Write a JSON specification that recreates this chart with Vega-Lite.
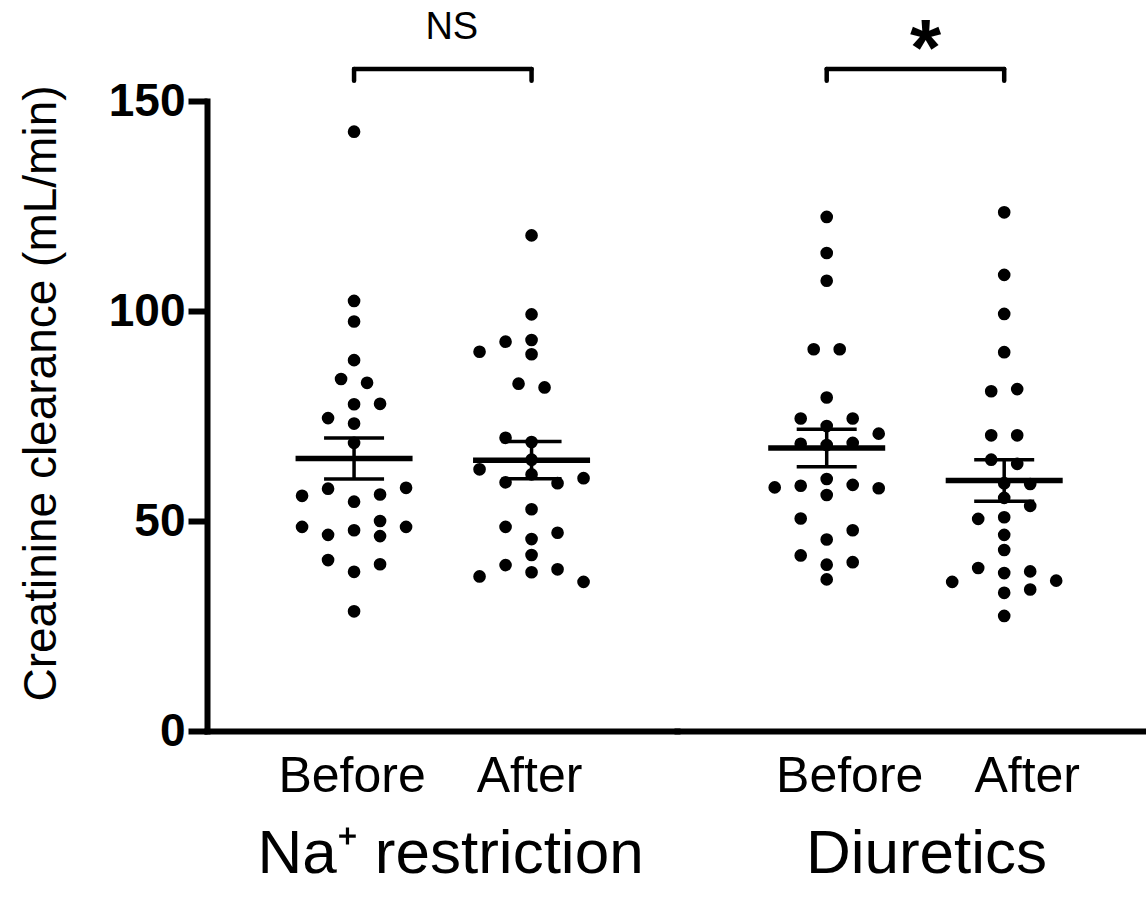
{
  "$schema": "https://vega.github.io/schema/vega-lite/v6.json",
  "autosize": {"type": "pad"},
  "padding": {"left": 17, "top": 9, "right": 0, "bottom": 0},
  "background": "white",
  "spacing": 0,
  "bounds": "flush",
  "config": {"view": {"stroke": null}, "font": "Liberation Sans", "axis": {"grid": false}},
  "datasets": {
    "pts": [
      {"condition": "Na⁺ restriction", "time": "Before", "slot": 0, "clearance": 142.7},
      {"condition": "Na⁺ restriction", "time": "Before", "slot": 0, "clearance": 102.4},
      {"condition": "Na⁺ restriction", "time": "Before", "slot": 0, "clearance": 97.5},
      {"condition": "Na⁺ restriction", "time": "Before", "slot": 0, "clearance": 88.3},
      {"condition": "Na⁺ restriction", "time": "Before", "slot": -0.5, "clearance": 83.8},
      {"condition": "Na⁺ restriction", "time": "Before", "slot": 0.5, "clearance": 82.9},
      {"condition": "Na⁺ restriction", "time": "Before", "slot": 0, "clearance": 77.8},
      {"condition": "Na⁺ restriction", "time": "Before", "slot": 1, "clearance": 77.9},
      {"condition": "Na⁺ restriction", "time": "Before", "slot": -1, "clearance": 74.5},
      {"condition": "Na⁺ restriction", "time": "Before", "slot": 0, "clearance": 73.2},
      {"condition": "Na⁺ restriction", "time": "Before", "slot": 0, "clearance": 68.6},
      {"condition": "Na⁺ restriction", "time": "Before", "slot": -1, "clearance": 57.7},
      {"condition": "Na⁺ restriction", "time": "Before", "slot": 2, "clearance": 57.9},
      {"condition": "Na⁺ restriction", "time": "Before", "slot": -2, "clearance": 56.0},
      {"condition": "Na⁺ restriction", "time": "Before", "slot": 1, "clearance": 56.3},
      {"condition": "Na⁺ restriction", "time": "Before", "slot": 0, "clearance": 54.6},
      {"condition": "Na⁺ restriction", "time": "Before", "slot": 1, "clearance": 50.0},
      {"condition": "Na⁺ restriction", "time": "Before", "slot": -2, "clearance": 48.6},
      {"condition": "Na⁺ restriction", "time": "Before", "slot": 2, "clearance": 48.6},
      {"condition": "Na⁺ restriction", "time": "Before", "slot": 0, "clearance": 47.8},
      {"condition": "Na⁺ restriction", "time": "Before", "slot": -1, "clearance": 46.7},
      {"condition": "Na⁺ restriction", "time": "Before", "slot": 1, "clearance": 46.4},
      {"condition": "Na⁺ restriction", "time": "Before", "slot": -1, "clearance": 40.7},
      {"condition": "Na⁺ restriction", "time": "Before", "slot": 1, "clearance": 39.7},
      {"condition": "Na⁺ restriction", "time": "Before", "slot": 0, "clearance": 37.9},
      {"condition": "Na⁺ restriction", "time": "Before", "slot": 0, "clearance": 28.5},
      {"condition": "Na⁺ restriction", "time": "After", "slot": 0, "clearance": 118.0},
      {"condition": "Na⁺ restriction", "time": "After", "slot": 0, "clearance": 99.2},
      {"condition": "Na⁺ restriction", "time": "After", "slot": -1, "clearance": 92.7},
      {"condition": "Na⁺ restriction", "time": "After", "slot": 0, "clearance": 93.1},
      {"condition": "Na⁺ restriction", "time": "After", "slot": -2, "clearance": 90.3},
      {"condition": "Na⁺ restriction", "time": "After", "slot": 0, "clearance": 89.7},
      {"condition": "Na⁺ restriction", "time": "After", "slot": -0.5, "clearance": 82.7},
      {"condition": "Na⁺ restriction", "time": "After", "slot": 0.5, "clearance": 81.8},
      {"condition": "Na⁺ restriction", "time": "After", "slot": -1, "clearance": 69.8},
      {"condition": "Na⁺ restriction", "time": "After", "slot": 0, "clearance": 68.8},
      {"condition": "Na⁺ restriction", "time": "After", "slot": 0, "clearance": 64.6},
      {"condition": "Na⁺ restriction", "time": "After", "slot": -2, "clearance": 62.3},
      {"condition": "Na⁺ restriction", "time": "After", "slot": 0, "clearance": 61.1},
      {"condition": "Na⁺ restriction", "time": "After", "slot": 2, "clearance": 60.2},
      {"condition": "Na⁺ restriction", "time": "After", "slot": -1, "clearance": 59.2},
      {"condition": "Na⁺ restriction", "time": "After", "slot": 1, "clearance": 59.0},
      {"condition": "Na⁺ restriction", "time": "After", "slot": 0, "clearance": 52.8},
      {"condition": "Na⁺ restriction", "time": "After", "slot": -1, "clearance": 48.6},
      {"condition": "Na⁺ restriction", "time": "After", "slot": 1, "clearance": 47.2},
      {"condition": "Na⁺ restriction", "time": "After", "slot": 0, "clearance": 45.7},
      {"condition": "Na⁺ restriction", "time": "After", "slot": 0, "clearance": 41.9},
      {"condition": "Na⁺ restriction", "time": "After", "slot": -1, "clearance": 39.5},
      {"condition": "Na⁺ restriction", "time": "After", "slot": 1, "clearance": 38.5},
      {"condition": "Na⁺ restriction", "time": "After", "slot": 0, "clearance": 37.8},
      {"condition": "Na⁺ restriction", "time": "After", "slot": -2, "clearance": 36.8},
      {"condition": "Na⁺ restriction", "time": "After", "slot": 2, "clearance": 35.5},
      {"condition": "Diuretics", "time": "Before", "slot": 0, "clearance": 122.4},
      {"condition": "Diuretics", "time": "Before", "slot": 0, "clearance": 113.8},
      {"condition": "Diuretics", "time": "Before", "slot": 0, "clearance": 107.2},
      {"condition": "Diuretics", "time": "Before", "slot": -0.5, "clearance": 90.9},
      {"condition": "Diuretics", "time": "Before", "slot": 0.5, "clearance": 90.9},
      {"condition": "Diuretics", "time": "Before", "slot": 0, "clearance": 79.4},
      {"condition": "Diuretics", "time": "Before", "slot": -1, "clearance": 74.4},
      {"condition": "Diuretics", "time": "Before", "slot": 1, "clearance": 74.4},
      {"condition": "Diuretics", "time": "Before", "slot": 0, "clearance": 72.6},
      {"condition": "Diuretics", "time": "Before", "slot": 2, "clearance": 70.8},
      {"condition": "Diuretics", "time": "Before", "slot": -1, "clearance": 68.4},
      {"condition": "Diuretics", "time": "Before", "slot": 0, "clearance": 68.1},
      {"condition": "Diuretics", "time": "Before", "slot": 1, "clearance": 68.6},
      {"condition": "Diuretics", "time": "Before", "slot": 0, "clearance": 60.0},
      {"condition": "Diuretics", "time": "Before", "slot": -2, "clearance": 58.0},
      {"condition": "Diuretics", "time": "Before", "slot": -1, "clearance": 58.4},
      {"condition": "Diuretics", "time": "Before", "slot": 1, "clearance": 58.6},
      {"condition": "Diuretics", "time": "Before", "slot": 2, "clearance": 57.8},
      {"condition": "Diuretics", "time": "Before", "slot": 0, "clearance": 56.2},
      {"condition": "Diuretics", "time": "Before", "slot": -1, "clearance": 50.6},
      {"condition": "Diuretics", "time": "Before", "slot": 1, "clearance": 47.8},
      {"condition": "Diuretics", "time": "Before", "slot": 0, "clearance": 45.6},
      {"condition": "Diuretics", "time": "Before", "slot": -1, "clearance": 41.8},
      {"condition": "Diuretics", "time": "Before", "slot": 1, "clearance": 40.2},
      {"condition": "Diuretics", "time": "Before", "slot": 0, "clearance": 39.6},
      {"condition": "Diuretics", "time": "Before", "slot": 0, "clearance": 36.1},
      {"condition": "Diuretics", "time": "After", "slot": 0, "clearance": 123.5},
      {"condition": "Diuretics", "time": "After", "slot": 0, "clearance": 108.6},
      {"condition": "Diuretics", "time": "After", "slot": 0, "clearance": 99.3},
      {"condition": "Diuretics", "time": "After", "slot": 0, "clearance": 90.2},
      {"condition": "Diuretics", "time": "After", "slot": -0.5, "clearance": 80.9},
      {"condition": "Diuretics", "time": "After", "slot": 0.5, "clearance": 81.4},
      {"condition": "Diuretics", "time": "After", "slot": -0.5, "clearance": 70.4},
      {"condition": "Diuretics", "time": "After", "slot": 0.5, "clearance": 70.4},
      {"condition": "Diuretics", "time": "After", "slot": -0.5, "clearance": 64.6},
      {"condition": "Diuretics", "time": "After", "slot": 0.5, "clearance": 63.6},
      {"condition": "Diuretics", "time": "After", "slot": 0, "clearance": 59.0},
      {"condition": "Diuretics", "time": "After", "slot": 1, "clearance": 58.8},
      {"condition": "Diuretics", "time": "After", "slot": 0, "clearance": 55.5},
      {"condition": "Diuretics", "time": "After", "slot": 1, "clearance": 53.6},
      {"condition": "Diuretics", "time": "After", "slot": -1, "clearance": 50.5},
      {"condition": "Diuretics", "time": "After", "slot": 0, "clearance": 50.9},
      {"condition": "Diuretics", "time": "After", "slot": 0, "clearance": 46.7},
      {"condition": "Diuretics", "time": "After", "slot": 0, "clearance": 43.1},
      {"condition": "Diuretics", "time": "After", "slot": -1, "clearance": 38.8},
      {"condition": "Diuretics", "time": "After", "slot": 0, "clearance": 37.6},
      {"condition": "Diuretics", "time": "After", "slot": 1, "clearance": 38.0},
      {"condition": "Diuretics", "time": "After", "slot": -2, "clearance": 35.5},
      {"condition": "Diuretics", "time": "After", "slot": 2, "clearance": 35.8},
      {"condition": "Diuretics", "time": "After", "slot": 0, "clearance": 32.9},
      {"condition": "Diuretics", "time": "After", "slot": 1, "clearance": 33.7},
      {"condition": "Diuretics", "time": "After", "slot": 0, "clearance": 27.4}
    ],
    "pairs": [
      {"condition": "Na⁺ restriction", "from": "Before", "to": "After", "sig": "NS"},
      {"condition": "Diuretics", "from": "Before", "to": "After", "sig": "*"}
    ]
  },
  "hconcat": [
    {
      "width": 470,
      "height": 630,
      "layer": [
        {
          "data": {"name": "pts"},
          "transform": [{"filter": "datum.condition == 'Na⁺ restriction'"}],
          "mark": {"type": "circle", "size": 160, "opacity": 1, "color": "black"},
          "encoding": {
            "x": {
              "field": "time", "type": "nominal",
              "scale": {"domain": ["Before", "After"], "paddingInner": 0, "paddingOuter": 0.324, "align": 0.507},
              "axis": {
                "title": "Na⁺ restriction", "titleFont": "Liberation Sans", "titleFontSize": 62, "titleFontWeight": "normal", "titleColor": "black",
                "titleX": 243, "titleY": 141, "titleBaseline": "alphabetic", "titleAlign": "center",
                "ticks": false, "labelAngle": 0, "labelOffset": -2,
                "domainWidth": 6, "domainColor": "black", "domainCap": "square",
                "labelFont": "Liberation Sans", "labelFontSize": 50, "labelColor": "black", "labelPadding": 20
              }
            },
            "xOffset": {"field": "slot", "type": "quantitative", "scale": {"domain": [-2, 2], "range": [36.75, 140.75]}},
            "y": {
              "field": "clearance", "type": "quantitative",
              "scale": {"domain": [0, 150], "nice": false},
              "title": "Creatinine clearance (mL/min)",
              "axis": {
                "values": [0, 50, 100, 150],
                "titleFont": "Liberation Sans", "titleFontSize": 46, "titleFontWeight": "normal", "titleColor": "black",
                "titleX": -166, "titleY": 292, "titleAngle": -90, "titleBaseline": "middle", "titleAlign": "center",
                "domainWidth": 6, "domainColor": "black", "domainCap": "square",
                "tickWidth": 6, "tickSize": 19, "tickColor": "black",
                "labelFont": "Liberation Sans", "labelFontSize": 46, "labelFontWeight": "bold", "labelColor": "black",
                "labelPadding": 3
              }
            }
          }
        },
        {
          "data": {"name": "pts"},
          "transform": [{"filter": "datum.condition == 'Na⁺ restriction'"}],
          "mark": {"type": "errorbar", "extent": "stderr", "color": "black", "rule": {"strokeWidth": 3.5, "opacity": 1}, "ticks": {"size": 60, "thickness": 3.5, "opacity": 1}},
          "encoding": {
            "x": {"field": "time", "type": "nominal"},
            "y": {"field": "clearance", "type": "quantitative", "title": "Creatinine clearance (mL/min)"}
          }
        },
        {
          "data": {"name": "pts"},
          "transform": [{"filter": "datum.condition == 'Na⁺ restriction'"}],
          "mark": {"type": "tick", "size": 117, "thickness": 5.5, "color": "black", "opacity": 1},
          "encoding": {
            "x": {"field": "time", "type": "nominal"},
            "y": {"aggregate": "mean", "field": "clearance", "type": "quantitative", "title": "Creatinine clearance (mL/min)"}
          }
        },
        {
          "data": {"name": "pairs"},
          "transform": [{"filter": "datum.condition == 'Na⁺ restriction'"}],
          "mark": {"type": "rule", "strokeWidth": 4.5, "color": "black", "strokeCap": "round"},
          "encoding": {
            "x": {"field": "from", "type": "nominal"},
            "x2": {"field": "to"},
            "y": {"datum": 157.6, "type": "quantitative"}
          }
        },
        {
          "data": {"name": "pairs"},
          "transform": [{"filter": "datum.condition == 'Na⁺ restriction'"}],
          "mark": {"type": "rule", "strokeWidth": 4.5, "color": "black", "strokeCap": "round"},
          "encoding": {
            "x": {"field": "from", "type": "nominal"},
            "y": {"datum": 157.6, "type": "quantitative"},
            "y2": {"datum": 154.8}
          }
        },
        {
          "data": {"name": "pairs"},
          "transform": [{"filter": "datum.condition == 'Na⁺ restriction'"}],
          "mark": {"type": "rule", "strokeWidth": 4.5, "color": "black", "strokeCap": "round"},
          "encoding": {
            "x": {"field": "to", "type": "nominal"},
            "y": {"datum": 157.6, "type": "quantitative"},
            "y2": {"datum": 154.8}
          }
        },
        {
          "data": {"name": "pairs"},
          "transform": [{"filter": "datum.condition == 'Na⁺ restriction'"}],
          "mark": {"type": "text", "fontSize": 38, "font": "Liberation Sans", "baseline": "middle", "align": "center", "dx": 9, "color": "black"},
          "encoding": {
            "x": {"field": "from", "type": "nominal", "bandPosition": 1},
            "y": {"datum": 167.3, "type": "quantitative"},
            "text": {"field": "sig"}
          }
        }
      ]
    },
    {
      "width": 470,
      "height": 630,
      "layer": [
        {
          "data": {"name": "pts"},
          "transform": [{"filter": "datum.condition == 'Diuretics'"}],
          "mark": {"type": "circle", "size": 160, "opacity": 1, "color": "black"},
          "encoding": {
            "x": {
              "field": "time", "type": "nominal",
              "scale": {"domain": ["Before", "After"], "paddingInner": 0, "paddingOuter": 0.324, "align": 0.53},
              "axis": {
                "title": "Diuretics", "titleFont": "Liberation Sans", "titleFontSize": 62, "titleFontWeight": "normal", "titleColor": "black",
                "titleX": 249, "titleY": 141, "titleBaseline": "alphabetic", "titleAlign": "center",
                "ticks": false, "labelAngle": 0, "labelOffset": 23,
                "domainWidth": 6, "domainColor": "black", "domainCap": "square",
                "labelFont": "Liberation Sans", "labelFontSize": 50, "labelColor": "black", "labelPadding": 20
              }
            },
            "xOffset": {"field": "slot", "type": "quantitative", "scale": {"domain": [-2, 2], "range": [36.75, 140.75]}},
            "y": {
              "field": "clearance", "type": "quantitative",
              "scale": {"domain": [0, 150], "nice": false},
              "axis": null
            }
          }
        },
        {
          "data": {"name": "pts"},
          "transform": [{"filter": "datum.condition == 'Diuretics'"}],
          "mark": {"type": "errorbar", "extent": "stderr", "color": "black", "rule": {"strokeWidth": 3.5, "opacity": 1}, "ticks": {"size": 60, "thickness": 3.5, "opacity": 1}},
          "encoding": {
            "x": {"field": "time", "type": "nominal"},
            "y": {"field": "clearance", "type": "quantitative", "axis": null}
          }
        },
        {
          "data": {"name": "pts"},
          "transform": [{"filter": "datum.condition == 'Diuretics'"}],
          "mark": {"type": "tick", "size": 117, "thickness": 5.5, "color": "black", "opacity": 1},
          "encoding": {
            "x": {"field": "time", "type": "nominal"},
            "y": {"aggregate": "mean", "field": "clearance", "type": "quantitative", "axis": null}
          }
        },
        {
          "data": {"name": "pairs"},
          "transform": [{"filter": "datum.condition == 'Diuretics'"}],
          "mark": {"type": "rule", "strokeWidth": 4.5, "color": "black", "strokeCap": "round"},
          "encoding": {
            "x": {"field": "from", "type": "nominal"},
            "x2": {"field": "to"},
            "y": {"datum": 157.6, "type": "quantitative", "axis": null}
          }
        },
        {
          "data": {"name": "pairs"},
          "transform": [{"filter": "datum.condition == 'Diuretics'"}],
          "mark": {"type": "rule", "strokeWidth": 4.5, "color": "black", "strokeCap": "round"},
          "encoding": {
            "x": {"field": "from", "type": "nominal"},
            "y": {"datum": 157.6, "type": "quantitative", "axis": null},
            "y2": {"datum": 154.8}
          }
        },
        {
          "data": {"name": "pairs"},
          "transform": [{"filter": "datum.condition == 'Diuretics'"}],
          "mark": {"type": "rule", "strokeWidth": 4.5, "color": "black", "strokeCap": "round"},
          "encoding": {
            "x": {"field": "to", "type": "nominal"},
            "y": {"datum": 157.6, "type": "quantitative", "axis": null},
            "y2": {"datum": 154.8}
          }
        },
        {
          "data": {"name": "pairs"},
          "transform": [{"filter": "datum.condition == 'Diuretics'"}],
          "mark": {"type": "text", "fontSize": 80, "font": "Liberation Sans", "fontWeight": "bold", "baseline": "alphabetic", "align": "center", "dx": 10, "color": "black"},
          "encoding": {
            "x": {"field": "from", "type": "nominal", "bandPosition": 1},
            "y": {"datum": 156.3, "type": "quantitative", "axis": null},
            "text": {"field": "sig"}
          }
        }
      ]
    }
  ]
}
